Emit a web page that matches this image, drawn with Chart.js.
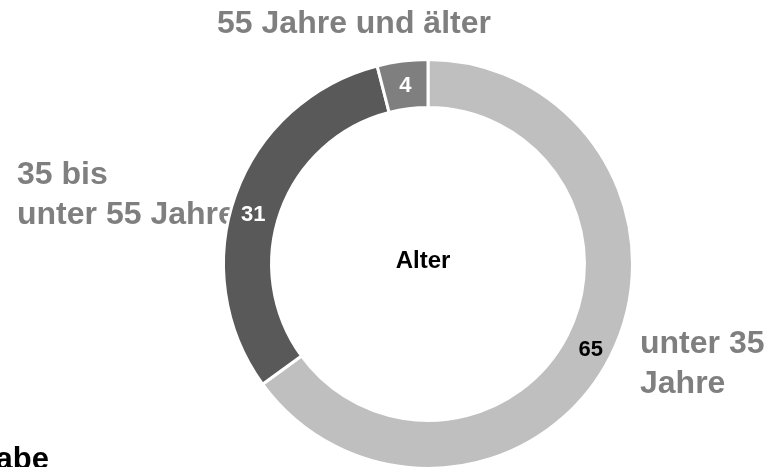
<!DOCTYPE html>
<html>
<head>
<meta charset="utf-8">
<script src="https://cdn.jsdelivr.net/npm/chart.js@4"></script>
<style>
  html, body { margin: 0; padding: 0; background: #fff; overflow: hidden; }
  #wrap { width: 774px; height: 467px; overflow: hidden; }
</style>
</head>
<body>
<div id="wrap"><canvas id="chart" width="774" height="500"></canvas></div>
<script>
const FONT = '"Liberation Sans", Arial, sans-serif';

const categories = ['unter 35 Jahre', '35 bis unter 55 Jahre', '55 Jahre und älter'];
const shares = [65, 31, 4];
const colors = ['#bfbfbf', '#595959', '#7f7f7f'];
const valueColors = ['#000000', '#ffffff', '#ffffff'];

// outside category labels, one entry per line
const outsideLabels = [
  { lines: ['unter 35', 'Jahre'], x: 640, y: 353, align: 'left' },
  { lines: ['35 bis', 'unter 55 Jahre'], x: 17, y: 184, align: 'left' },
  { lines: ['55 Jahre und älter'], x: 354, y: 33, align: 'center' },
];
// small nudges of the value labels, like the original
const valueNudge = [[2, 4], [-5, 12], [0, 1]];

const labelPlugin = {
  id: 'labels',
  beforeDatasetsDraw(chart) {
    const ctx = chart.ctx;
    ctx.save();
    ctx.font = 'bold 32px ' + FONT;
    ctx.fillStyle = '#7f7f7f';
    ctx.textBaseline = 'alphabetic';
    outsideLabels.forEach(l => {
      ctx.textAlign = l.align;
      l.lines.forEach((t, i) => ctx.fillText(t, l.x, l.y + i * 40));
    });
    ctx.restore();
  },
  afterDatasetsDraw(chart) {
    const ctx = chart.ctx;
    const arcs = chart.getDatasetMeta(0).data;
    ctx.save();

    // values inside the ring
    ctx.font = 'bold 22px ' + FONT;
    ctx.textAlign = 'center';
    ctx.textBaseline = 'middle';
    arcs.forEach((arc, i) => {
      const p = arc.tooltipPosition();
      ctx.fillStyle = valueColors[i];
      ctx.fillText(shares[i], p.x + valueNudge[i][0], p.y + valueNudge[i][1]);
    });

    // centre title
    const a = arcs[0];
    ctx.fillStyle = '#000';
    ctx.font = 'bold 24px ' + FONT;
    ctx.fillText('Alter', a.x - 5, a.y - 3);

    // cut off text at bottom left
    ctx.textAlign = 'right';
    ctx.textBaseline = 'alphabetic';
    ctx.font = 'bold 31px ' + FONT;
    ctx.fillText('Keine Angabe', 49, 469);
    ctx.restore();
  }
};

new Chart(document.getElementById('chart'), {
  type: 'doughnut',
  data: {
    labels: categories,
    datasets: [
      {
        data: shares,
        backgroundColor: colors,
        borderColor: '#ffffff',
        borderWidth: 3,
      },
    ],
  },
  options: {
    responsive: false,
    animation: false,
    cutout: '76.5%',
    layout: {
      padding: { top: 58, bottom: 30, left: 82, right: 0 },
    },
    plugins: {
      legend: { display: false },
      tooltip: { enabled: false },
    },
  },
  plugins: [labelPlugin],
});
</script>
</body>
</html>
